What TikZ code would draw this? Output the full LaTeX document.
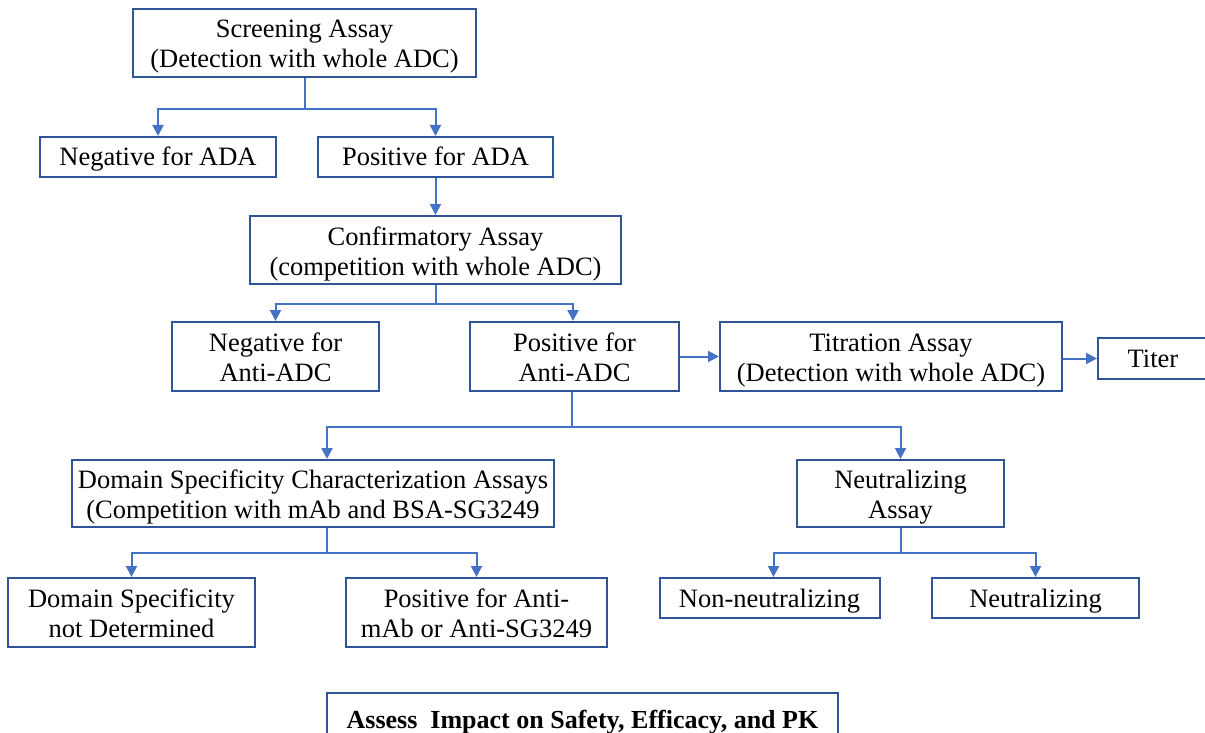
\documentclass[tikz,border=0pt]{standalone}
\usepackage{fontspec}
\setmainfont{Liberation Serif}
\usetikzlibrary{arrows.meta,calc}
\definecolor{boxblue}{HTML}{2F5597}
\definecolor{linkblue}{HTML}{4472C4}
\newcommand{\twoline}[2]{\raisebox{-4pt}[\height][\depth]{\begin{tabular}{@{}c@{}}#1\\#2\end{tabular}}}
\tikzset{
  box/.style={draw=boxblue, line width=2pt, fill=white, inner sep=0pt, align=center,
    font=\fontsize{26.5}{30}\selectfont, text=black, anchor=center},
  oneline/.style={text height=20pt, text depth=2pt},
  conn/.style={draw=linkblue, line width=2pt, -{Triangle[length=11pt,width=11pt]}},
  plain/.style={draw=linkblue, line width=2pt}
}
\begin{document}
\begin{tikzpicture}[x=1pt,y=-1pt]
\useasboundingbox (0,0) rectangle (1205,733);
\node[box, minimum width=343pt, minimum height=68pt] (scr) at (304.5,43) {\twoline{Screening Assay}{(Detection with whole ADC)}};
\node[box, oneline, minimum width=236pt, minimum height=40pt] (negada) at (158,157) {Negative for ADA};
\node[box, oneline, minimum width=235pt, minimum height=40pt] (posada) at (435.5,157) {Positive for ADA};
\node[box, minimum width=371pt, minimum height=68pt] (conf) at (435.5,250) {\twoline{Confirmatory Assay}{(competition with whole ADC)}};
\node[box, minimum width=207pt, minimum height=69pt] (negadc) at (275.5,356.5) {\twoline{Negative for}{Anti-ADC}};
\node[box, minimum width=209pt, minimum height=69pt] (posadc) at (574.5,356.5) {\twoline{Positive for}{Anti-ADC}};
\node[box, minimum width=342pt, minimum height=69pt] (titr) at (891,356.5) {\twoline{Titration Assay}{(Detection with whole ADC)}};
\node[box, oneline, minimum width=110pt, minimum height=41pt] (titer) at (1153,358.5) {Titer};
\node[box, minimum width=482pt, minimum height=67pt] (dsc) at (313,493.5) {\twoline{Domain Specificity Characterization Assays}{(Competition with mAb and BSA-SG3249}};
\node[box, minimum width=207pt, minimum height=67pt] (neut) at (900.5,493.5) {\twoline{Neutralizing}{Assay}};
\node[box, minimum width=247pt, minimum height=69pt] (dsnd) at (131.5,612.5) {\twoline{Domain Specificity}{not Determined}};
\node[box, minimum width=261pt, minimum height=69pt] (posmab) at (476.5,612.5) {\twoline{Positive for Anti-}{mAb or Anti-SG3249}};
\node[box, oneline, minimum width=220pt, minimum height=40pt] (nonneut) at (769.5,598) {Non-neutralizing};
\node[box, oneline, minimum width=207pt, minimum height=40pt] (neutr) at (1035.5,598) {Neutralizing};
\node[box, draw=none, minimum width=509pt, minimum height=56pt, font=\bfseries\fontsize{26}{30}\selectfont] (assess) at (582.5,722) {Assess\ \ Impact on Safety, Efficacy, and PK};
\draw[draw=boxblue, line width=2pt] ([yshift=-4pt]assess.south west) -- (assess.north west) -- (assess.north east) -- ([yshift=-4pt]assess.south east);
% connectors
\coordinate (b1) at ($(scr.south)+(0,31)$);
\draw[plain] (scr.south) -- (b1);
\draw[conn] (b1) -| (negada.north);
\draw[conn] (b1) -| (posada.north);
\draw[conn] (posada.south) -- (conf.north);
\coordinate (b2) at ($(conf.south)+(0,19)$);
\draw[plain] (conf.south) -- (b2);
\draw[conn] (b2) -| (negadc.north);
\draw[conn] (b2) -| ([xshift=-1.5pt]posadc.north);
\draw[conn] (posadc.east) -- (titr.west);
\draw[conn] (titr.east |- titer.west) -- (titer.west);
\coordinate (b3) at ($([xshift=-2.5pt]posadc.south)+(0,35)$);
\draw[plain] ([xshift=-2.5pt]posadc.south) -- (b3);
\draw[conn] (b3) -| ([xshift=14pt]dsc.north);
\draw[conn] (b3) -| (neut.north);
\coordinate (b4) at ($([xshift=14pt]dsc.south)+(0,25)$);
\draw[plain] ([xshift=14pt]dsc.south) -- (b4);
\draw[conn] (b4) -| (dsnd.north);
\draw[conn] (b4) -| (posmab.north);
\coordinate (b5) at ($(neut.south)+(0,25)$);
\draw[plain] (neut.south) -- (b5);
\draw[conn] (b5) -| ([xshift=4pt]nonneut.north);
\draw[conn] (b5) -| (neutr.north);
\end{tikzpicture}
\end{document}
